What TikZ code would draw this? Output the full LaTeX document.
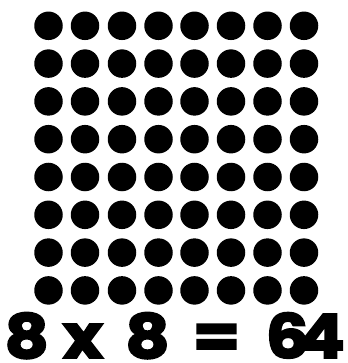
\documentclass[tikz,border=0pt]{standalone}
\usepackage{fontspec}
\newfontfamily\eqfont{Poppins}[BoldFeatures={FakeBold=3}]
\newcommand{\wideglyph}[1]{\scalebox{1.12}[1]{#1}}
\begin{document}
\begin{tikzpicture}[x=1pt,y=-1pt,
  dot/.style={circle,fill=black,inner sep=0pt,minimum size=28.5pt},
  glyph/.style={inner sep=0pt,anchor=base,font=\eqfont\bfseries\fontsize{61}{61}\selectfont}]
\useasboundingbox (0,0) rectangle (347,363);
\foreach \c [count=\i] in {48.5,85,122,158.5,194.5,231,267.5,304}{
  \foreach \r in {1,...,8}{
    \node[dot] (d\i-\r) at (\c,{25.8+(\r-1)*37.8}) {};
  }
}
\node[glyph] (n1) at (26.7,358) {\wideglyph{8}};
\node[glyph] (tx) at (83,358) {\wideglyph{x}};
\node[glyph] (n2) at (147.5,358) {\wideglyph{8}};
\node[glyph] (eq) at (216.5,358) {\wideglyph{=}};
\node[glyph] (n6) at (287.5,358) {\wideglyph{6}};
\node[glyph] (n4) at (321.5,358) {\wideglyph{4}};
\end{tikzpicture}
\end{document}
